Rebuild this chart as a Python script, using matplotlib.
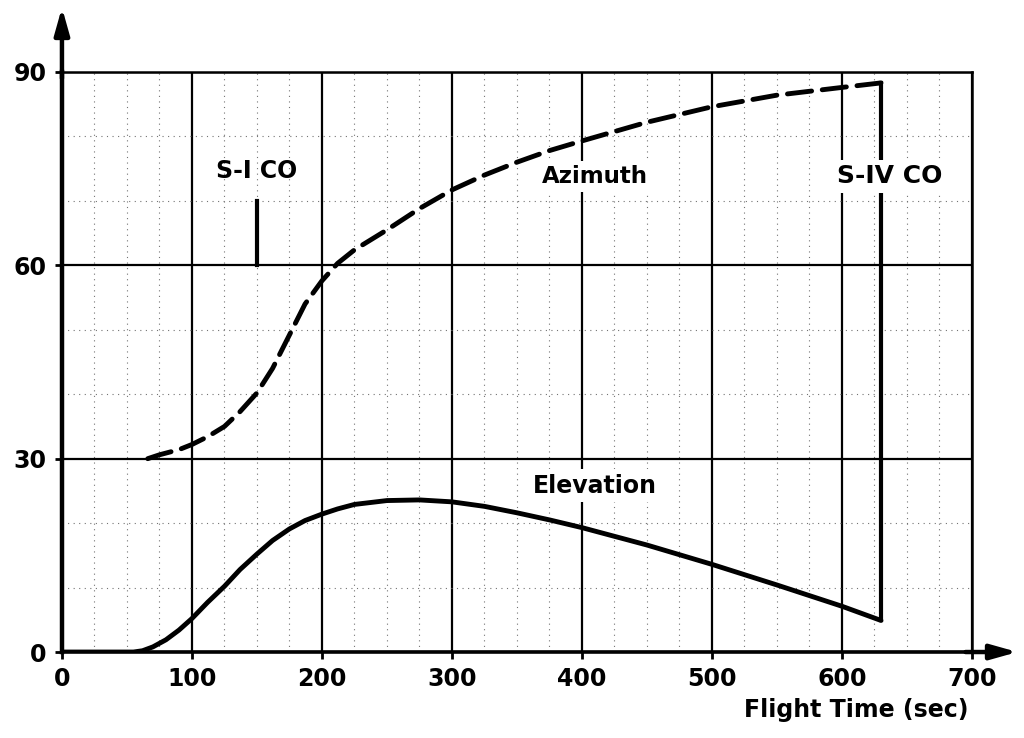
import matplotlib.pyplot as plt
from matplotlib.ticker import MultipleLocator

# flight time (sec) and angle (deg)
azimuth_t = [66, 75, 90, 100, 112, 125, 137, 150, 162, 175, 187, 200, 212,
             225, 250, 275, 300, 325, 350, 375, 400, 450, 500, 550, 600, 630]
azimuth = [30, 30.6, 31.4, 32.2, 33.4, 35, 37.3, 40.2, 44, 49.2, 54, 57.6,
           60.3, 62.4, 65.5, 68.8, 71.7, 74, 76, 77.8, 79.3, 82.2, 84.6,
           86.4, 87.6, 88.3]

elev_t = [0, 55, 62, 70, 80, 90, 100, 112, 125, 137, 150, 162, 175, 187, 200,
          212, 225, 250, 275, 300, 325, 350, 375, 400, 450, 500, 550, 600, 630]
elevation = [0, 0, 0.2, 0.8, 1.9, 3.4, 5.2, 7.7, 10.2, 12.8, 15.2, 17.3, 19.1,
             20.4, 21.4, 22.2, 22.9, 23.5, 23.6, 23.3, 22.6, 21.6, 20.5, 19.3,
             16.6, 13.6, 10.4, 7.1, 4.9]

x_ticks = [0, 100, 200, 300, 400, 500, 600, 700]
y_ticks = [0, 30, 60, 90]

s1_cutoff = 150
s4_cutoff = 630

fig = plt.figure(figsize=(10.24, 7.38), dpi=100)
ax = fig.add_axes([0.0605, 0.1165, 0.8887, 0.786])

ax.set_xlim(0, 700)
ax.set_ylim(0, 90)
ax.set_xticks(x_ticks)
ax.set_yticks(y_ticks)
ax.xaxis.set_minor_locator(MultipleLocator(25))
ax.yaxis.set_minor_locator(MultipleLocator(10))

ax.grid(which='major', color='black', lw=1.6)
ax.grid(which='minor', color='0.45', lw=0.8, linestyle=(0, (1, 4)))
ax.set_axisbelow(True)

for side, w in [('left', 3.2), ('bottom', 2.6), ('top', 1.8), ('right', 1.8)]:
    ax.spines[side].set_linewidth(w)

ax.tick_params(which='major', direction='out', length=5, width=2,
               labelsize=17, pad=6)
ax.tick_params(which='minor', length=0)
for lab in ax.get_xticklabels() + ax.get_yticklabels():
    lab.set_fontweight('bold')

# curves
ax.plot(azimuth_t, azimuth, color='black', lw=3.5, dashes=(5, 2.2),
        dash_capstyle='round', dash_joinstyle='round')
ax.plot(elev_t, elevation, color='black', lw=3.5, solid_capstyle='round',
        solid_joinstyle='round')

# cutoff markers
ax.plot([s1_cutoff, s1_cutoff], [60, 70], color='black', lw=3)
ax.plot([s4_cutoff, s4_cutoff], [elevation[-1], azimuth[-1]], color='black', lw=3)

white = dict(facecolor='white', edgecolor='none', pad=3)
ax.text(s1_cutoff, 74.6, 'S-I CO', fontsize=17, fontweight='bold',
        ha='center', va='center')
ax.text(637, 73.8, 'S-IV CO', fontsize=18, fontweight='bold', ha='center',
        va='center', bbox=white)
ax.text(410, 73.8, 'Azimuth', fontsize=16.5, fontweight='bold', ha='center',
        va='center', bbox=white)
ax.text(410, 25.8, 'Elevation', fontsize=17, fontweight='bold', ha='center',
        va='center', bbox=white)

# axis arrows
arrow = dict(arrowstyle='-|>,head_length=1.6,head_width=0.45', color='black',
             lw=3.2, shrinkA=0, shrinkB=0)
ax.annotate('', xy=(0, 100), xytext=(0, 89), arrowprops=arrow,
            annotation_clip=False)
ax.annotate('', xy=(735, 0), xytext=(695, 0), arrowprops=arrow,
            annotation_clip=False)

fig.text(0.946, 0.022, 'Flight Time (sec)', fontsize=17, fontweight='bold',
         ha='right', va='bottom')

fig.savefig('out.png', dpi=100)
